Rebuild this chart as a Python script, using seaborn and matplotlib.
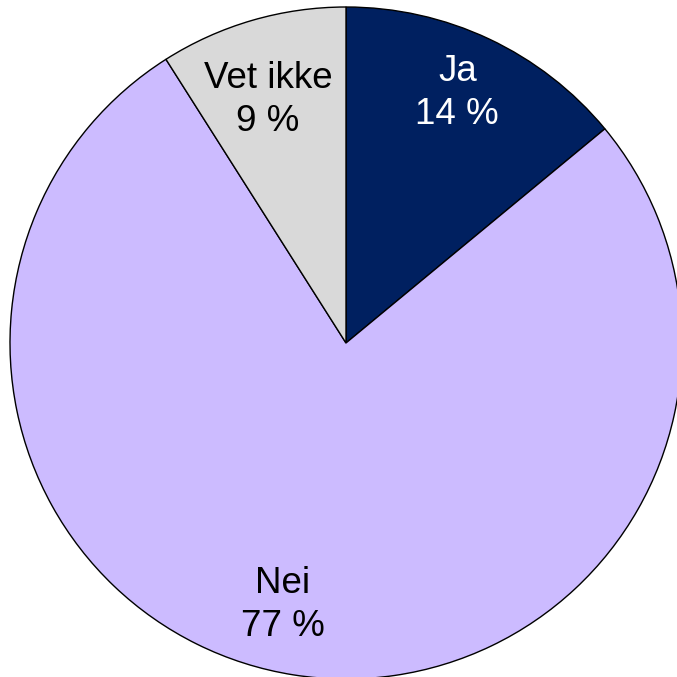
import numpy as np
import matplotlib
matplotlib.use("Agg")
import matplotlib.pyplot as plt
import seaborn as sns

categories = ["Ja", "Nei", "Vet ikke"]
values = [14, 77, 9]
colors = ["#002060", "#CCBBFF", "#D9D9D9"]
text_colors = ["white", "black", "black"]

sns.set_theme(style="white")
plt.rcParams["font.family"] = ["Liberation Sans", "DejaVu Sans"]

fig = plt.figure(figsize=(6.77, 6.77), dpi=100)
ax = fig.add_axes([0, 0, 1, 1])
R_px = 336.0
cx, cy = 346.0, 343.0

wedges, _ = ax.pie(values, colors=colors, startangle=90, counterclock=False,
                   radius=1.0, center=(0, 0),
                   wedgeprops=dict(edgecolor="black", linewidth=1.0))
ax.set_xlim(-cx / R_px, (677 - cx) / R_px)
ax.set_ylim(-(677 - cy) / R_px, cy / R_px)
ax.set_aspect("equal")
ax.axis("off")

dist = [0.82, 0.79, 0.77]
offsets_px = [(-6, 1), (-22, 0), (-6, -5)]
for w, cat, v, tc, d, (ox, oy) in zip(wedges, categories, values, text_colors, dist, offsets_px):
    ang = np.deg2rad((w.theta1 + w.theta2) / 2)
    ax.annotate(f"{cat}\n{v} %", xy=(d * np.cos(ang), d * np.sin(ang)),
                xytext=(ox * 0.72, oy * 0.72), textcoords="offset points",
                ha="center", va="center", fontsize=26.5, color=tc, linespacing=1.3)

fig.savefig("out.png", dpi=100)
